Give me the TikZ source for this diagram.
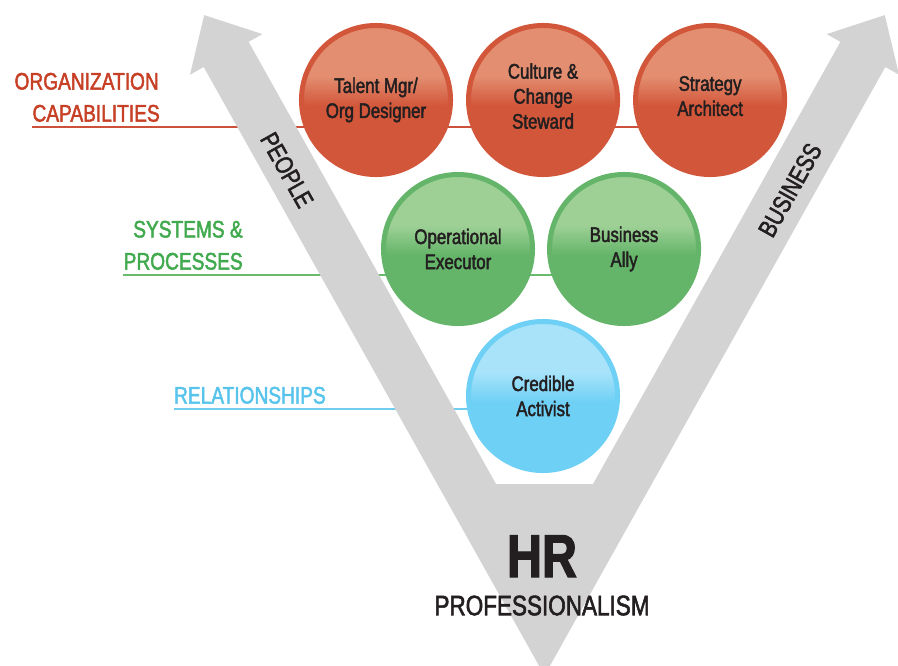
\documentclass[tikz,border=0pt]{standalone}
\usepackage{fontspec}
\setmainfont{Liberation Sans}[FakeStretch=0.8, FakeBold=2]
\usetikzlibrary{positioning, backgrounds}

\definecolor{vgray}{RGB}{211,211,211}
\definecolor{ink}{RGB}{35,31,32}
\definecolor{orgred}{RGB}{199,64,38}
\definecolor{orgline}{RGB}{205,80,58}
\definecolor{sysgreen}{RGB}{66,170,78}
\definecolor{sysline}{RGB}{104,186,108}
\definecolor{relblue}{RGB}{88,196,236}
\definecolor{relline}{RGB}{112,205,240}
\definecolor{reddk}{RGB}{210,86,58}
\definecolor{redlt}{RGB}{227,142,112}
\definecolor{greendk}{RGB}{100,181,106}
\definecolor{greenlt}{RGB}{158,208,150}
\definecolor{bluedk}{RGB}{110,208,245}
\definecolor{bluelt}{RGB}{168,227,250}

\pgfdeclareverticalshading{redfill}{100bp}{color(0bp)=(reddk); color(48bp)=(reddk); color(58bp)=(redlt); color(100bp)=(redlt)}
\pgfdeclareverticalshading{greenfill}{100bp}{color(0bp)=(greendk); color(48bp)=(greendk); color(58bp)=(greenlt); color(100bp)=(greenlt)}
\pgfdeclareverticalshading{bluefill}{100bp}{color(0bp)=(bluedk); color(48bp)=(bluedk); color(58bp)=(bluelt); color(100bp)=(bluelt)}

\begin{document}
\begin{tikzpicture}[
      x=0.025cm, y=-0.025cm,
      ball/.style={circle, minimum size=3.725cm, line width=0.125cm, align=center,
        text=ink, font=\fontsize{15}{17.8}\selectfont},
      redball/.style={ball, draw=reddk, shade, shading=redfill},
      greenball/.style={ball, draw=greendk, shade, shading=greenfill},
      blueball/.style={ball, draw=bluedk, shade, shading=bluefill},
      lab/.style={align=right, anchor=south east, inner xsep=0pt, inner ysep=3.5pt,
        font=\fontsize{17}{22.8}\selectfont},
      armtext/.style={text=ink, font=\fontsize{18}{18}\selectfont}
    ]
    \useasboundingbox (0,0) rectangle (898,665);
    \clip (0,0) rectangle (898,665);

    % competence circles
    \node[redball] (talent) at (376,100) {Talent Mgr/\\Org Designer};
    \node[redball, text depth=5.7pt, right=0.325cm of talent] (culture) {Culture \&\\Change\\Steward};
    \node[redball, text depth=5.7pt, right=0.325cm of culture] (strategy) {Strategy\\Architect};
    \node[greenball] (operational) at (458,249) {Operational\\Executor};
    \node[greenball, right=0.3cm of operational] (bizally) {Business\\Ally};
    \node[blueball] (credible) at (543,396) {Credible\\Activist};

    % level labels
    \node[lab, text=orgred] (orgtop) at (159,95) {ORGANIZATION};
    \node[lab, text=orgred] (orglab) at (160,127) {CAPABILITIES};
    \node[lab, text=sysgreen] (syslab) at (243,275) {SYSTEMS \&\\PROCESSES};
    \node[lab, text=relblue] (rellab) at (326,409) {RELATIONSHIPS};

    % arms and base
    \node[armtext, rotate=-60.75] (people) at (287,170) {PEOPLE};
    \node[armtext, rotate=60.75] (business) at (790,190) {BUSINESS};
    \node[text=ink, inner sep=0pt, anchor=base, font=\fontsize{43}{43}\selectfont\bfseries] (hr) at (542,577) {HR};
    \node[text=ink, inner sep=0pt, below=0.45cm of hr, font=\fontsize{20}{20}\selectfont] (prof) {PROFESSIONALISM};

    \begin{scope}[on background layer]
      \draw[orgline, line width=1.2pt] (orglab.south west) -- (orglab.south west -| strategy.center);
      \draw[sysline, line width=1.4pt] (syslab.south west) -- (syslab.south west -| bizally.center);
      \draw[relline, line width=1.4pt] (rellab.south west) -- (rellab.south west -| credible.center);
      % the V
      \fill[vgray] (544.5,675.5) -- (203.7,67) -- (190,74.7) -- (204.2,15.1) -- (262.4,34.1)
        -- (248.6,41.8) -- (496,484) -- (593,484) -- (840.4,41.8) -- (826.6,34.1)
        -- (884.8,15.1) -- (899,74.7) -- (885.3,67) -- cycle;
    \end{scope}
  \end{tikzpicture}
\end{document}
